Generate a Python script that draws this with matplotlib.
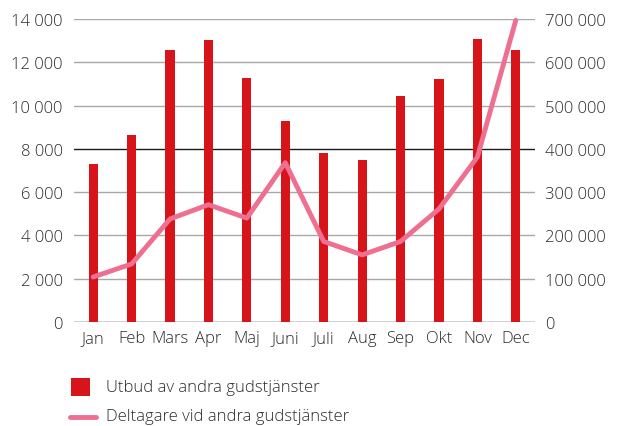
import matplotlib
matplotlib.use("Agg")
import matplotlib.pyplot as plt
from matplotlib.ticker import FuncFormatter
from matplotlib.patches import Rectangle
from matplotlib.lines import Line2D
from matplotlib import font_manager

months = ["Jan", "Feb", "Mars", "Apr", "Maj", "Juni", "Juli", "Aug", "Sep", "Okt", "Nov", "Dec"]
utbud = [7280, 8650, 12580, 13050, 11270, 9300, 7820, 7480, 10440, 11210, 13070, 12570]
deltagare = [104000, 134000, 238000, 271000, 240000, 368000, 186000, 155000, 186000, 261000, 381000, 697000]
left_ticks = [0, 2000, 4000, 6000, 8000, 10000, 12000, 14000]
right_ticks = [0, 100000, 200000, 300000, 400000, 500000, 600000, 700000]
legend_labels = ["Utbud av andra gudstjänster", "Deltagare vid andra gudstjänster"]

bar_color = "#D7141A"
line_color = "#EE6F8F"
text_color = "#2b2b2b"
plt.rcParams["font.family"] = ["Open Sans", "DejaVu Sans"]
plt.rcParams["font.weight"] = "light"

def fmt(v, pos):
    return f"{int(v):,}".replace(",", " ")

fig = plt.figure(figsize=(6.18, 4.27), dpi=100)
ax = fig.add_axes([0.1197, 0.2436, 0.746, 0.7096])
ax2 = ax.twinx()

x = list(range(len(months)))
ax.bar(x, utbud, width=0.24, color=bar_color, zorder=3)
ax.set_ylim(0, 14000)
ax.set_xlim(-0.5, 11.5)
ax.set_yticks(left_ticks)
ax.yaxis.set_major_formatter(FuncFormatter(fmt))
ax.set_xticks(x)
ax.set_xticklabels(months)
for t in left_ticks:
    ax.axhline(t, color="#1a1a1a" if t in (0, 8000) else "#A8A8A8", lw=1.0, zorder=1)

ax2.plot(x, deltagare, color=line_color, lw=3.5, zorder=4, solid_capstyle="round",
         clip_on=False)
ax2.set_ylim(0, 700000)
ax2.set_yticks(right_ticks)
ax2.yaxis.set_major_formatter(FuncFormatter(fmt))

for a in (ax, ax2):
    for s in a.spines.values():
        s.set_visible(False)
    a.tick_params(length=0, labelsize=12, colors=text_color)
ax.tick_params(axis="y", pad=8)
ax.tick_params(axis="x", pad=6)
ax2.tick_params(axis="y", pad=7)
ax.set_zorder(1)
ax2.set_zorder(2)
ax2.patch.set_visible(False)

W, H = 618.0, 427.0
fig.patches.append(Rectangle((71 / W, 1 - 397 / H), 19 / W, 18 / H,
                             transform=fig.transFigure, facecolor=bar_color,
                             edgecolor="none"))
fig.lines.append(Line2D([70 / W, 96 / W], [1 - 418 / H, 1 - 418 / H],
                        transform=fig.transFigure, color=line_color, lw=3.5,
                        solid_capstyle="round"))
fig.text(106 / W, 1 - 388 / H, legend_labels[0], fontsize=12, color=text_color,
         va="center", ha="left")
fig.text(106 / W, 1 - 417 / H, legend_labels[1], fontsize=12, color=text_color,
         va="center", ha="left")

fig.savefig("out.png", dpi=100)
